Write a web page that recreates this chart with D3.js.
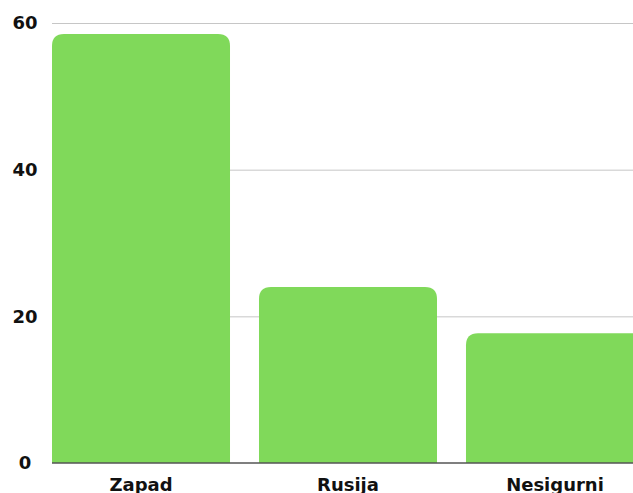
<!DOCTYPE html>
<html>
<head>
<meta charset="utf-8">
<script src="https://cdn.jsdelivr.net/npm/d3@7"></script>
<style>
  body { margin: 0; background: #fff; overflow: hidden; }
  svg { display: block; }
</style>
</head>
<body>
<div id="chart"></div>
<script>
// data
var categories = ["Zapad", "Rusija", "Nesigurni"];
var values = [58.5, 24.0, 17.7];
var yTicks = [0, 20, 40, 60];

var drawChart = function() {
  var width = 633, height = 493;
  var plotLeft = 52, plotBottom = 463, plotTop = 23;
  var font = "'DejaVu Sans', sans-serif";

  var svg = d3.select("#chart").append("svg").attr("width", width).attr("height", height);

  var x = d3.scaleBand().domain(categories).range([plotLeft, 644]).paddingInner(0.14).paddingOuter(0);
  var y = d3.scaleLinear().domain([0, 60]).range([plotBottom, plotTop]);

  // gridlines
  svg.append("g").selectAll("line.grid").data(yTicks.filter(function(d) { return d > 0; }))
    .enter().append("line").attr("class", "grid")
    .attr("x1", plotLeft).attr("x2", width)
    .attr("y1", function(d) { return y(d) + 0.5; }).attr("y2", function(d) { return y(d) + 0.5; })
    .attr("stroke", "#c6c6c6").attr("stroke-width", 1);

  // y tick labels
  svg.append("g").selectAll("text.ylab").data(yTicks).enter().append("text")
    .attr("class", "ylab")
    .attr("x", 25).attr("y", function(d) { return y(d); })
    .attr("dy", "0.35em").attr("text-anchor", "middle")
    .style("font-family", font).style("font-weight", "bold")
    .style("font-size", "18px").attr("fill", "#111")
    .text(function(d) { return d; });

  // bars with rounded tops
  var r = 12;
  var barPath = function(d, i) {
    var x0 = x(categories[i]), w = x.bandwidth(), y0 = y(d), y1 = y(0);
    return "M" + x0 + "," + y1 + "V" + (y0 + r) + "Q" + x0 + "," + y0 + " " + (x0 + r) + "," + y0 +
      "H" + (x0 + w - r) + "Q" + (x0 + w) + "," + y0 + " " + (x0 + w) + "," + (y0 + r) + "V" + y1 + "Z";
  };
  svg.append("g").selectAll("path.bar").data(values).enter().append("path")
    .attr("class", "bar").attr("d", barPath).attr("fill", "#80d95a");

  // baseline
  svg.append("line").attr("x1", plotLeft).attr("x2", width)
    .attr("y1", y(0)).attr("y2", y(0)).attr("stroke", "#555").attr("stroke-width", 1.5);

  // x axis labels
  svg.append("g").selectAll("text.xlab").data(categories).enter().append("text")
    .attr("class", "xlab")
    .attr("x", function(d) { return x(d) + x.bandwidth() / 2; }).attr("y", 491)
    .attr("text-anchor", "middle")
    .style("font-family", font).style("font-weight", "bold")
    .style("font-size", "18px").attr("fill", "#111")
    .text(function(d) { return d; });
};

drawChart();
</script>
</body>
</html>
